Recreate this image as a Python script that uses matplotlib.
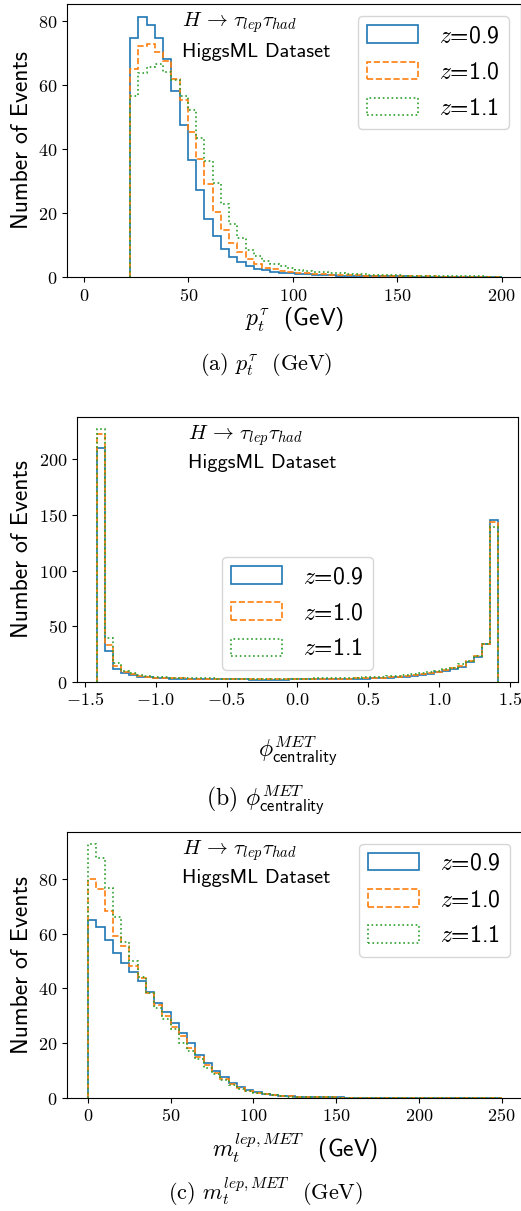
import numpy as np
import matplotlib
matplotlib.use('Agg')
import matplotlib.pyplot as plt
from matplotlib.ticker import FuncFormatter

plt.rcParams['mathtext.fontset'] = 'cm'

# legend labels
labels = [r'$z$=0.9', r'$z$=1.0', r'$z$=1.1']

# (a) p_t^tau, 45 bins between 22 and 200 GeV
pt_edges = np.linspace(22, 200, 46)
pt_z09 = [74.7, 81.3, 78.8, 74.7, 68.2, 58.2, 47.6, 36.7, 27.1, 18.0,
          12.8, 8.7, 6.3, 4.7, 3.4, 2.5, 2.1, 1.7, 1.4, 1.2,
          1.0, 0.85, 0.7, 0.6, 0.5, 0.45, 0.4, 0.35, 0.3, 0.25,
          0.22, 0.2, 0.18, 0.16, 0.14, 0.12, 0.1, 0.1, 0.09, 0.08,
          0.07, 0.06, 0.05, 0.05, 0.04]
pt_z10 = [65.1, 72.1, 72.9, 70.3, 67.4, 61.9, 55.2, 45.3, 37.0, 29.2,
          20.3, 14.6, 10.7, 7.8, 5.6, 4.2, 2.9, 2.4, 1.9, 1.6,
          1.4, 1.2, 1.0, 0.9, 0.75, 0.65, 0.55, 0.5, 0.45, 0.4,
          0.35, 0.3, 0.27, 0.24, 0.21, 0.19, 0.17, 0.15, 0.13, 0.12,
          0.1, 0.09, 0.08, 0.07, 0.06]
pt_z11 = [56.6, 63.8, 65.6, 66.5, 64.1, 61.5, 56.6, 52.1, 43.5, 36.3,
          29.4, 22.9, 16.5, 12.3, 8.5, 6.7, 5.0, 4.2, 3.3, 2.7,
          2.3, 1.9, 1.7, 1.5, 1.3, 1.1, 1.0, 0.9, 0.8, 0.7,
          0.6, 0.55, 0.5, 0.45, 0.4, 0.35, 0.3, 0.28, 0.25, 0.22,
          0.2, 0.18, 0.16, 0.14, 0.12]

# (b) phi centrality, 50 bins over [-sqrt2, sqrt2]
phi_edges = np.linspace(-np.sqrt(2), np.sqrt(2), 51)
phi_z09 = [210.6, 28.0, 11.2, 8.1, 6.0, 4.5, 3.9, 3.3, 3.0, 2.8,
           2.6, 2.5, 2.4, 2.3, 2.2, 2.1, 2.05, 2.0, 2.0, 1.95,
           1.9, 1.9, 1.9, 1.95, 2.0, 2.0, 2.05, 2.1, 2.2, 2.3,
           2.4, 2.5, 2.65, 2.8, 3.0, 3.3, 3.6, 3.9, 4.5, 5.1,
           6.0, 7.2, 8.5, 9.9, 11.5, 13.5, 18.1, 22.6, 34.0, 145.3]
phi_z10 = [223.2, 33.1, 14.2, 8.8, 6.6, 5.1, 4.2, 3.6, 3.3, 3.1,
           2.9, 2.8, 2.7, 2.6, 2.5, 2.4, 2.35, 2.3, 2.3, 2.25,
           2.2, 2.2, 2.2, 2.25, 2.3, 2.3, 2.35, 2.4, 2.5, 2.6,
           2.7, 2.8, 3.0, 3.2, 3.4, 3.7, 4.0, 4.5, 5.1, 5.8,
           6.7, 7.8, 9.1, 10.6, 12.0, 14.5, 18.3, 22.8, 33.8, 143.5]
phi_z11 = [227.1, 39.5, 16.6, 9.9, 7.5, 5.7, 4.8, 4.2, 3.8, 3.5,
           3.3, 3.2, 3.1, 3.0, 2.9, 2.8, 2.75, 2.7, 2.7, 2.65,
           2.6, 2.6, 2.6, 2.65, 2.7, 2.75, 2.8, 2.9, 3.0, 3.1,
           3.3, 3.5, 3.7, 3.9, 4.2, 4.5, 4.8, 5.4, 6.0, 6.9,
           7.8, 8.7, 9.9, 11.5, 12.7, 15.7, 18.8, 23.2, 33.5, 139.0]

# (c) m_t^{lep,MET}, 50 bins of 5 GeV
mt_edges = np.linspace(0, 250, 51)
mt_z09 = [65.2, 62.3, 57.7, 52.9, 49.4, 46.1, 42.8, 38.8, 34.5, 31.3,
          27.4, 23.5, 19.9, 15.7, 12.8, 9.8, 7.4, 5.5, 3.8, 2.8,
          2.0, 1.4, 1.0, 0.7, 0.5, 0.35, 0.25, 0.18, 0.13, 0.1,
          0.08, 0.06, 0.05, 0.04, 0.03, 0.03, 0.02, 0.02, 0.02, 0.01,
          0.01, 0.01, 0.01, 0.01, 0.01, 0.0, 0.0, 0.0, 0.0, 0.01]
mt_z10 = [79.9, 76.2, 68.3, 59.1, 55.5, 48.3, 43.7, 38.4, 34.1, 29.9,
          26.0, 22.6, 18.3, 14.8, 12.0, 9.1, 7.0, 5.1, 3.5, 2.6,
          1.8, 1.3, 0.9, 0.65, 0.45, 0.32, 0.23, 0.17, 0.12, 0.09,
          0.07, 0.05, 0.04, 0.03, 0.03, 0.02, 0.02, 0.02, 0.01, 0.01,
          0.01, 0.01, 0.01, 0.01, 0.0, 0.0, 0.0, 0.0, 0.0, 0.01]
mt_z11 = [92.7, 87.6, 76.6, 66.0, 57.0, 50.1, 44.0, 38.2, 32.7, 28.7,
          25.0, 20.1, 17.1, 14.0, 11.0, 8.7, 6.5, 4.6, 3.3, 2.3,
          1.7, 1.2, 0.85, 0.6, 0.42, 0.3, 0.22, 0.16, 0.12, 0.09,
          0.07, 0.05, 0.04, 0.03, 0.03, 0.02, 0.02, 0.02, 0.01, 0.01,
          0.01, 0.01, 0.01, 0.01, 0.0, 0.0, 0.0, 0.0, 0.0, 0.01]

colors = ['#1f77b4', '#ff7f0e', '#2ca02c']
styles = ['-', '--', ':']

W, H = 521, 1211
fig = plt.figure(figsize=(W / 100, H / 100), dpi=100)


def px_axes(left, right, top, bottom):
    return fig.add_axes([left / W, 1 - bottom / H, (right - left) / W, (bottom - top) / H])


def draw(ax, edges, series):
    centers = 0.5 * (edges[:-1] + edges[1:])
    for counts, c, ls, lab in zip(series, colors, styles, labels):
        ax.hist(centers, bins=edges, weights=counts, histtype='step',
                color=c, linestyle=ls, linewidth=1.2, label=lab)
    ax.text(0.253, 0.93, r'$H\,\rightarrow\,\tau_{lep}\tau_{had}$', transform=ax.transAxes,
            fontsize=15, va='center', ha='left')
    ax.text(0.253, 0.825, 'HiggsML Dataset', transform=ax.transAxes,
            fontsize=14.6, va='center', ha='left', family='cmss10')
    ax.set_ylabel('Number of Events', family='cmss10', fontsize=17)
    ax.tick_params(labelsize=13)


def legend(ax, loc):
    ax.legend(loc=loc, prop={'family': 'cmss10', 'size': 17}, handlelength=2.15,
              handleheight=0.75, labelspacing=0.6, handletextpad=0.9)


int_fmt = FuncFormatter(lambda v, p: r'$%d$' % round(v))
dec_fmt = FuncFormatter(lambda v, p: r'$%.1f$' % v)

# (a)
ax1 = px_axes(67.3, 521, 4, 277)
draw(ax1, pt_edges, [pt_z09, pt_z10, pt_z11])
ax1.set_xlim(-8.05, 209.3)
ax1.set_xticks([0, 50, 100, 150, 200])
ax1.set_yticks([0, 20, 40, 60, 80])
ax1.xaxis.set_major_formatter(int_fmt)
ax1.yaxis.set_major_formatter(int_fmt)
ax1.set_xlabel(r'$p_t^{\tau}$  (GeV)', family='cmss10', fontsize=17, labelpad=1)
legend(ax1, 'upper right')
fig.text(266 / W, 1 - 364 / H, r'(a) $p_t^{\tau}$  (GeV)', family='cmr10',
         fontsize=16, ha='center', va='center')

# (b)
ax2 = px_axes(76.7, 518.3, 416.7, 681.7)
draw(ax2, phi_edges, [phi_z09, phi_z10, phi_z11])
ax2.set_xticks([-1.5, -1.0, -0.5, 0.0, 0.5, 1.0, 1.5])
ax2.set_yticks([0, 50, 100, 150, 200])
ax2.xaxis.set_major_formatter(dec_fmt)
ax2.yaxis.set_major_formatter(int_fmt)
ax2.set_xlabel(r'$\phi^{MET}_{\mathsf{centrality}}$', fontsize=17, labelpad=18)
legend(ax2, 'lower center')
fig.text(266 / W, 1 - 800 / H, r'(b) $\phi^{MET}_{\mathsf{centrality}}$', family='cmr10',
         fontsize=17, ha='center', va='center')

# (c)
ax3 = px_axes(67.3, 522.2, 831.7, 1097.7)
draw(ax3, mt_edges, [mt_z09, mt_z10, mt_z11])
ax3.set_xticks([0, 50, 100, 150, 200, 250])
ax3.set_yticks([0, 20, 40, 60, 80])
ax3.xaxis.set_major_formatter(int_fmt)
ax3.yaxis.set_major_formatter(int_fmt)
ax3.set_xlabel(r'$m_t^{lep,MET}$  (GeV)', family='cmss10', fontsize=17)
legend(ax3, 'upper right')
fig.text(266 / W, 1 - 1192 / H, r'(c) $m_t^{lep,MET}$  (GeV)', family='cmr10',
         fontsize=16, ha='center', va='center')

fig.savefig('out.png', dpi=100)
